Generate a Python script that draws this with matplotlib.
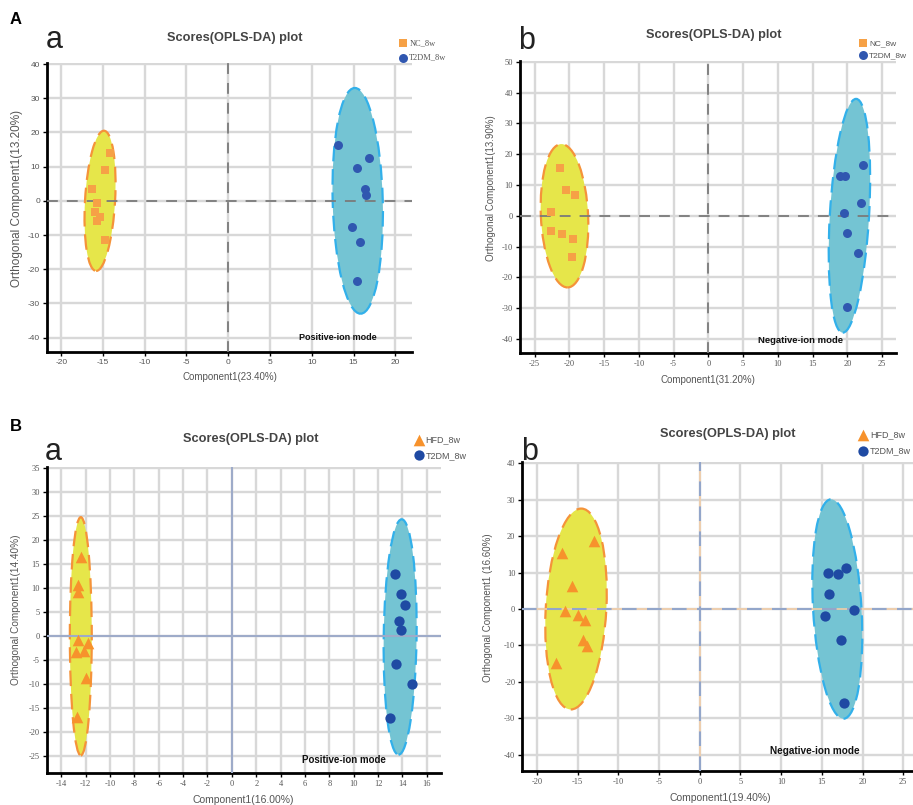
import matplotlib
matplotlib.use("Agg")
import matplotlib.pyplot as plt
from matplotlib.patches import Ellipse

plt.rcParams["axes.unicode_minus"] = False

W, H = 913, 805

# ---------------- data ----------------
# Panel A-a (positive ion mode, NC vs T2DM)
aa_nc_x = [-14.2, -14.8, -16.3, -15.7, -16.0, -15.3, -15.7, -14.7]
aa_nc_y = [14.0, 9.0, 3.5, -0.5, -3.4, -4.7, -5.8, -11.5]
aa_t2_x = [13.1, 15.4, 16.9, 16.4, 16.5, 14.8, 15.8, 15.4]
aa_t2_y = [16.3, 9.5, 12.6, 3.5, 1.7, -7.7, -12.0, -23.3]
# Panel A-b (negative ion mode, NC vs T2DM)
ab_nc_x = [-21.4, -20.5, -19.2, -22.6, -22.6, -21.0, -19.5, -19.6]
ab_nc_y = [15.5, 8.4, 6.9, 1.2, -5.0, -6.0, -7.5, -13.5]
ab_t2_x = [19.0, 19.7, 22.2, 21.9, 19.5, 19.9, 21.5, 20.0]
ab_t2_y = [13.0, 13.0, 16.5, 4.2, 1.0, -5.6, -12.0, -29.8]
# Panel B-a (positive ion mode, HFD vs T2DM)
ba_hfd_x = [-12.4, -12.6, -12.6, -12.6, -11.8, -12.8, -12.1, -12.0, -12.7]
ba_hfd_y = [16.5, 10.6, 9.2, -0.7, -1.4, -3.2, -3.1, -8.6, -16.8]
ba_t2_x = [13.4, 13.9, 14.2, 13.7, 13.9, 13.5, 14.8, 13.0]
ba_t2_y = [13.0, 8.7, 6.5, 3.2, 1.4, -5.7, -10.0, -17.0]
# Panel B-b (negative ion mode, HFD vs T2DM)
bb_hfd_x = [-16.9, -13.0, -15.7, -16.6, -15.0, -14.1, -14.4, -13.8, -17.6]
bb_hfd_y = [15.3, 18.7, 6.2, -0.6, -1.7, -2.9, -8.4, -10.2, -14.8]
bb_t2_x = [15.8, 17.0, 18.0, 15.9, 19.0, 15.4, 17.4, 17.7]
bb_t2_y = [9.8, 9.7, 11.4, 4.2, -0.2, -2.0, -8.6, -25.7]

# confidence ellipses: (cx, cy, full width, full height, angle)
aa_ell = [(-15.35, 0.0, 3.6, 41.0, -1.3), (15.5, 0.0, 6.0, 66.0, 0.6)]
ab_ell = [(-20.7, 0.0, 6.8, 46.6, 1.1), (20.3, 0.0, 5.65, 76.0, -1.45)]
ba_ell = [(-12.4, 0.0, 1.8, 49.6, 0.0), (13.82, -0.15, 2.7, 49.0, -0.3)]
bb_ell = [(-15.2, 0.0, 7.45, 55.2, -1.35), (16.9, 0.0, 5.95, 60.3, 1.45)]

aa_xticks = list(range(-20, 21, 5)); aa_yticks = list(range(-40, 41, 10))
ab_xticks = list(range(-25, 26, 5)); ab_yticks = list(range(-40, 51, 10))
ba_xticks = list(range(-14, 17, 2)); ba_yticks = list(range(-25, 36, 5))
bb_xticks = list(range(-20, 26, 5)); bb_yticks = list(range(-40, 41, 10))

# ---------------- style ----------------
YEL_FILL, YEL_EDGE = "#e6e64a", "#f5933a"
TEAL_FILL, TEAL_EDGE = "#74c4d3", "#32b0ea"
ORANGE = "#f6a146"
ORANGE_B = "#f7922c"
BLUE_A = "#3057b0"
BLUE_B = "#1f4aa3"
GRID = "#d8d8d8"
SANS = ["Liberation Sans", "DejaVu Sans"]
SERIF = ["Liberation Serif", "DejaVu Serif"]

fig = plt.figure(figsize=(W / 100, H / 100), dpi=100)


def fx(px):
    return px / W


def fy(py):
    return 1 - py / H


def make_ax(l, t, r, b, xlim, ylim, xticks, yticks, tickfont):
    ax = fig.add_axes([fx(l), fy(b), fx(r) - fx(l), fy(t) - fy(b)])
    ax.set_xlim(*xlim)
    ax.set_ylim(*ylim)
    ax.set_xticks(xticks)
    ax.set_yticks(yticks)
    ax.grid(True, color=GRID, lw=1.7, zorder=0)
    ax.set_axisbelow(True)
    for s in ("top", "right"):
        ax.spines[s].set_visible(False)
    for s in ("left", "bottom"):
        ax.spines[s].set_linewidth(2.0)
        ax.spines[s].set_color("black")
    ax.tick_params(length=3, width=1, colors="black", labelcolor="#555555",
                   labelsize=6, pad=2)
    for lab in ax.get_xticklabels() + ax.get_yticklabels():
        lab.set_family(tickfont)
    return ax


def draw_ellipses(ax, ells):
    for (cx, cy, w, h, ang), fc, ec in zip(ells, [YEL_FILL, TEAL_FILL], [YEL_EDGE, TEAL_EDGE]):
        ax.add_patch(Ellipse((cx, cy), w, h, angle=ang, facecolor=fc, edgecolor=ec,
                             lw=1.6, ls=(0, (7, 3.5)), zorder=2))


def zero_lines_A(ax):
    ax.axhline(0, color="#7a7a7a", lw=1.3, ls=(0, (6, 5)), zorder=3)
    ax.axvline(0, color="#7a7a7a", lw=1.3, ls=(0, (6, 5)), zorder=3)


# ======== Panel A-a ========
ax1 = make_ax(47, 63, 412, 352, (-21.7, 22.0), (-44.2, 40.3), aa_xticks, aa_yticks, SANS)
draw_ellipses(ax1, aa_ell)
zero_lines_A(ax1)
h1 = ax1.scatter(aa_nc_x, aa_nc_y, marker="s", s=26, color=ORANGE, lw=0, zorder=4)
h2 = ax1.scatter(aa_t2_x, aa_t2_y, marker="o", s=42, color=BLUE_A, lw=0, zorder=4)
ax1.legend([h1, h2], ["NC_8w", "T2DM_8w"], loc="upper left",
           bbox_to_anchor=(fx(398.5), fy(39.5)), bbox_transform=fig.transFigure,
           frameon=False, borderpad=0, borderaxespad=0, handlelength=1.0,
           handletextpad=0.3, labelspacing=0.75, prop={"family": SERIF, "size": 6},
           labelcolor="#555555")

# ======== Panel A-b ========
ax2 = make_ax(520, 61, 896, 353.3, (-27.1, 27.0), (-44.7, 50.3), ab_xticks, ab_yticks, SERIF)
draw_ellipses(ax2, ab_ell)
zero_lines_A(ax2)
h1 = ax2.scatter(ab_nc_x, ab_nc_y, marker="s", s=26, color=ORANGE, lw=0, zorder=4)
h2 = ax2.scatter(ab_t2_x, ab_t2_y, marker="o", s=42, color=BLUE_A, lw=0, zorder=4)
ax2.legend([h1, h2], ["NC_8w", "T2DM_8w"], loc="upper left",
           bbox_to_anchor=(fx(858.5), fy(39.0)), bbox_transform=fig.transFigure,
           frameon=False, borderpad=0, borderaxespad=0, handlelength=1.0,
           handletextpad=0.3, labelspacing=0.55, prop={"family": SANS, "size": 6},
           labelcolor="#555555")

# ======== Panel B-a ========
ax3 = make_ax(46.7, 466.7, 440.7, 772.7, (-15.2, 17.15), (-28.4, 35.3), ba_xticks, ba_yticks, SERIF)
draw_ellipses(ax3, ba_ell)
ax3.axhline(0, color="#9eabc9", lw=1.5, zorder=3)
ax3.axvline(0, color="#9eabc9", lw=1.5, zorder=3)
h1 = ax3.scatter(ba_hfd_x, ba_hfd_y, marker="^", s=70, color=ORANGE_B, lw=0, zorder=4)
h2 = ax3.scatter(ba_t2_x, ba_t2_y, marker="o", s=55, color=BLUE_B, lw=0, zorder=4)
ax3.legend([h1, h2], ["HFD_8w", "T2DM_8w"], loc="upper left",
           bbox_to_anchor=(fx(413.5), fy(435.0)), bbox_transform=fig.transFigure,
           frameon=False, borderpad=0, borderaxespad=0, handlelength=1.2,
           handletextpad=0.15, labelspacing=0.75, prop={"family": SANS, "size": 6.5},
           labelcolor="#555555")

# ======== Panel B-b ========
ax4 = make_ax(522.3, 462.3, 913, 771, (-21.8, 26.2), (-44.5, 40.3), bb_xticks, bb_yticks, SERIF)
draw_ellipses(ax4, bb_ell)
ax4.axhline(0, color="#f2cda6", lw=1.2, zorder=3)
ax4.axvline(0, color="#f2cda6", lw=1.2, zorder=3)
ax4.axhline(0, color="#93a6ca", lw=1.5, ls=(0, (7, 5)), zorder=3)
ax4.axvline(0, color="#93a6ca", lw=1.5, ls=(0, (7, 5)), zorder=3)
h1 = ax4.scatter(bb_hfd_x, bb_hfd_y, marker="^", s=70, color=ORANGE_B, lw=0, zorder=4)
h2 = ax4.scatter(bb_t2_x, bb_t2_y, marker="o", s=55, color=BLUE_B, lw=0, zorder=4)
ax4.legend([h1, h2], ["HFD_8w", "T2DM_8w"], loc="upper left",
           bbox_to_anchor=(fx(858.0), fy(430.5)), bbox_transform=fig.transFigure,
           frameon=False, borderpad=0, borderaxespad=0, handlelength=1.2,
           handletextpad=0.15, labelspacing=0.75, prop={"family": SANS, "size": 6.5},
           labelcolor="#555555")

# ---------------- texts ----------------
def ftext(px, py, s, **kw):
    fig.text(fx(px), fy(py), s, **kw)


# big panel letters
ftext(10, 20, "A", family=SANS, fontsize=12, weight="bold", ha="left", va="center")
ftext(10, 426, "B", family=SANS, fontsize=12, weight="bold", ha="left", va="center")
for px, py, s in [(46, 48, "a"), (518, 49, "b"), (45, 460, "a"), (521, 460, "b")]:
    ftext(px, py, s, family=SANS, fontsize=22, ha="left", va="baseline", color="#222222")

# titles
for px, py in [(234.5, 38), (714, 35), (251, 439), (728, 434)]:
    ftext(px, py, "Scores(OPLS-DA) plot", family=SANS, fontsize=9.2, weight="bold",
          color="#444444", ha="center", va="center")

# x labels
for px, py, s, fs in [(229.5, 377, "Component1(23.40%)", 7),
                      (708, 380, "Component1(31.20%)", 7),
                      (243.5, 800, "Component1(16.00%)", 7.5),
                      (720, 798, "Component1(19.40%)", 7.5)]:
    ftext(px, py, s, family=SANS, fontsize=fs, color="#555555", ha="center", va="center")

# y labels
for px, py, s, fs in [(17.5, 198, "Orthogonal Component1(13.20%)", 8.5),
                      (491, 188, "Orthogonal Component1(13.90%)", 7),
                      (16, 610, "Orthogonal Component1(14.40%)", 7.2),
                      (488, 608, "Orthogonal Component1 (16.60%)", 7)]:
    ftext(px, py, s, family=SANS, fontsize=fs, color="#555555", ha="center",
          va="center", rotation=90)

# ion-mode annotations
for px, py, s, fs in [(337.5, 337.7, "Positive-ion mode", 6.5),
                      (800.5, 340, "Negative-ion mode", 6.8),
                      (343.5, 760, "Positive-ion mode", 7),
                      (814.5, 751, "Negative-ion mode", 7.2)]:
    ftext(px, py, s, family=SANS, fontsize=fs, weight="bold", color="#111111",
          ha="center", va="center")

fig.savefig("out.png", dpi=100)
